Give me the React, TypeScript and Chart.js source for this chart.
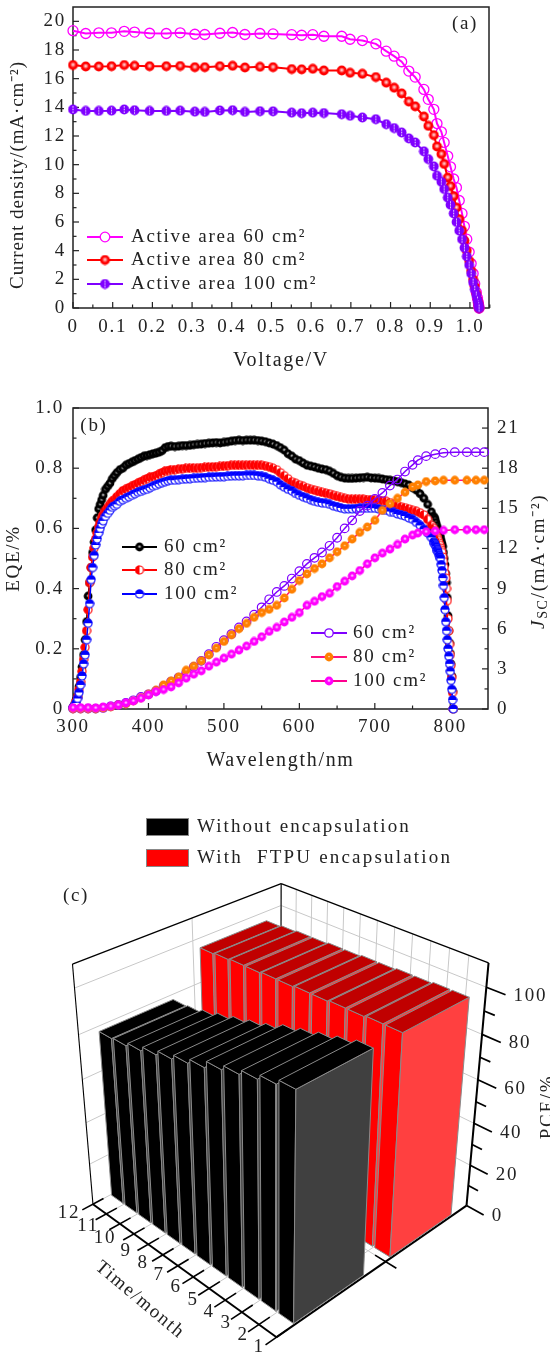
import React, { useEffect, useRef } from "react";
import { Chart, registerables } from "chart.js";
Chart.register(...registerables);

const FONT = "'Liberation Serif'";
const INK = "#222";
const FS = 19;
const SPACING = "1.7px";

/* ---------- panel (a) ---------- */
const voltage = [0,.032,.065,.097,.129,.155,.193,.235,.27,.307,.332,.37,.402,.433,.471,.504,.551,.576,.604,.632,.677,.698,.729,.763,.789,.809,.828,.846,.862,.884,.895,.909,.917,.928,.935,.944,.951,.959,.966,.973,.98,.986,.992,.998,1.003,1.008,1.012,1.016,1.019,1.021,1.022,1.023];
const j60 = [19.35,19.15,19.2,19.2,19.3,19.25,19.17,19.15,19.2,19.1,19.08,19.17,19.22,19.08,19.15,19.12,19.07,19.03,19.07,18.96,18.96,18.75,18.66,18.43,17.92,17.57,17.18,16.53,16.11,15.25,14.56,13.86,12.87,12.29,11.55,10.6,9.85,9,8.4,7.5,6.6,5.7,4.8,3.9,3.1,2.4,1.7,1.1,.7,.4,.2,0];
const j80 = [16.95,16.85,16.85,16.87,16.95,16.9,16.87,16.87,16.88,16.8,16.8,16.87,16.9,16.78,16.83,16.8,16.67,16.65,16.69,16.57,16.57,16.41,16.34,16.11,15.72,15.37,14.97,14.4,14.07,13.36,12.71,12.06,11.27,10.74,10.05,9.1,8.5,7.8,7,6.2,5.4,4.7,4,3.3,2.6,2,1.5,1,.6,.35,.15,0];
const j100 = [13.85,13.75,13.75,13.77,13.85,13.8,13.75,13.75,13.77,13.7,13.68,13.78,13.8,13.68,13.73,13.72,13.63,13.59,13.63,13.6,13.52,13.41,13.29,13.17,12.82,12.55,12.24,11.83,11.55,10.93,10.39,9.88,9.23,8.8,8.3,7.7,7.2,6.6,6,5.4,4.8,4.2,3.6,3,2.4,1.8,1.3,.9,.55,.3,.15,0];
const vTicks = [0,.1,.2,.3,.4,.5,.6,.7,.8,.9,1];
const vLabels = ["0","0.1","0.2","0.3","0.4","0.5","0.6","0.7","0.8","0.9","1.0"];
const vMinor = [.05,.15,.25,.35,.45,.55,.65,.75,.85,.95,1.05];
const jTicks = [0,2,4,6,8,10,12,14,16,18,20];
const jMinor = [1,3,5,7,9,11,13,15,17,19];

/* ---------- panel (b) ---------- */
const wlEqe = [300,302,304,306,308,310,312,314,316,318,320,322,324,326,328,330,332,334,336,338,340,343,346,349,352,355,358,362,366,370,374,378,382,386,390,394,398,402,406,410,414,418,422,426,430,435,440,445,450,455,460,465,470,475,480,485,490,495,500,505,510,515,520,525,530,535,540,545,550,555,560,565,570,575,580,585,590,595,600,605,610,615,620,625,630,635,640,645,650,655,660,665,670,675,680,685,690,695,700,705,710,715,720,725,730,735,740,745,750,755,760,765,770,775,778,779,780,781,782,783,784,785,786,787,788,789,790,791,792,793,794,795,796,797,798,799,800,801,802,803,804];
const eqe60 = [.005,.015,.03,.045,.075,.105,.14,.18,.23,.29,.375,.42,.47,.52,.555,.595,.635,.665,.68,.695,.71,.73,.74,.75,.765,.775,.785,.795,.8,.81,.815,.82,.825,.83,.835,.84,.842,.845,.848,.85,.853,.858,.868,.872,.873,.872,.873,.875,.875,.876,.878,.879,.88,.882,.883,.884,.885,.884,.886,.888,.89,.892,.893,.892,.893,.893,.893,.892,.89,.888,.884,.88,.875,.868,.86,.848,.84,.83,.825,.817,.81,.807,.804,.8,.797,.795,.79,.783,.775,.77,.767,.766,.766,.767,.768,.769,.77,.768,.767,.766,.764,.762,.76,.758,.755,.752,.748,.744,.735,.727,.715,.7,.68,.655,.64,.635,.63,.62,.61,.6,.595,.585,.575,.57,.56,.55,.54,.52,.5,.48,.45,.42,.37,.31,.26,.22,.185,.15,.11,.06,0];
const eqe80 = [.005,.012,.025,.04,.065,.09,.125,.165,.205,.26,.33,.42,.47,.505,.535,.565,.585,.605,.62,.635,.645,.66,.67,.68,.69,.695,.705,.715,.725,.73,.735,.74,.745,.75,.755,.76,.765,.77,.772,.775,.78,.785,.79,.792,.795,.795,.797,.798,.8,.8,.801,.8,.802,.803,.804,.804,.805,.806,.807,.808,.81,.81,.81,.81,.81,.811,.81,.81,.81,.808,.805,.8,.795,.785,.775,.765,.755,.75,.745,.74,.735,.73,.727,.723,.72,.717,.715,.71,.706,.703,.7,.698,.697,.697,.697,.697,.696,.695,.695,.693,.692,.69,.686,.68,.677,.672,.669,.665,.66,.657,.652,.645,.63,.61,.6,.593,.587,.58,.573,.567,.56,.552,.544,.535,.528,.52,.505,.49,.47,.45,.435,.4,.36,.3,.26,.215,.18,.145,.105,.055,0];
const eqe100 = [.005,.01,.02,.035,.055,.08,.11,.15,.18,.23,.285,.35,.43,.47,.51,.545,.565,.585,.6,.615,.625,.64,.65,.66,.67,.675,.68,.69,.695,.7,.705,.71,.715,.72,.723,.727,.73,.735,.74,.743,.748,.752,.755,.758,.76,.76,.762,.763,.764,.765,.766,.767,.768,.769,.77,.77,.771,.772,.772,.773,.774,.775,.775,.775,.776,.776,.776,.775,.773,.77,.765,.76,.755,.745,.737,.73,.725,.716,.71,.705,.7,.695,.69,.687,.685,.683,.68,.675,.672,.668,.665,.665,.665,.666,.667,.667,.667,.667,.667,.665,.662,.66,.656,.653,.648,.645,.641,.635,.63,.62,.61,.597,.585,.57,.555,.55,.545,.54,.53,.525,.52,.51,.505,.5,.48,.46,.435,.41,.37,.33,.29,.26,.23,.2,.175,.15,.125,.095,.065,.03,0];
const wlJsc = [300,310,320,330,340,350,360,370,380,390,400,410,420,430,440,450,460,470,480,490,500,510,520,530,540,550,560,570,580,590,600,610,620,630,640,650,660,670,680,690,700,710,720,730,740,750,757,768,780,791,806,822,834,845];
const jsc60 = [.03,.03,.03,.03,.08,.2,.3,.45,.65,.9,1.1,1.35,1.7,2.05,2.35,2.7,3.15,3.6,4.1,4.65,5.15,5.6,6.1,6.55,7.05,7.6,8.2,8.75,9.2,9.75,10.3,10.85,11.3,11.7,12.2,12.8,13.5,14.1,14.8,15.2,15.7,16.15,16.7,17.15,17.75,18.25,18.6,18.9,19.05,19.15,19.2,19.2,19.2,19.2];
const jsc80 = [.03,.03,.03,.03,.08,.15,.3,.4,.6,.85,1.1,1.4,1.8,2.1,2.4,2.9,3.2,3.6,4.05,4.55,5.05,5.55,6,6.4,6.85,7.2,7.45,7.75,8.3,8.95,9.6,10.1,10.5,10.85,11.3,11.75,12.2,12.7,13.2,13.6,14.1,14.85,15.35,15.75,16.2,16.6,16.75,17,17.05,17.1,17.1,17.1,17.1,17.1];
const jsc100 = [.1,.1,.1,.08,.15,.2,.3,.45,.6,.8,1.05,1.3,1.45,1.65,1.95,2.3,2.6,2.85,3.2,3.5,3.8,4.1,4.4,4.7,5.05,5.4,5.8,6.1,6.5,6.85,7.2,7.75,8.05,8.4,8.65,9.15,9.55,9.95,10.35,10.85,11.3,11.65,11.95,12.3,12.7,13,13.15,13.25,13.3,13.35,13.4,13.4,13.4,13.4];
const wlTicks = [300,400,500,600,700,800];
const wlMinor = [350,450,550,650,750];
const eqeTicks = [0,.2,.4,.6,.8,1];
const eqeLabels = ["0","0.2","0.4","0.6","0.8","1.0"];
const eqeMinor = [.1,.3,.5,.7,.9];
const jscTicks = [0,3,6,9,12,15,18,21];
const jscMinor = [1.5,4.5,7.5,10.5,13.5,16.5,19.5];

/* ---------- panel (c) ---------- */
const months = [1,2,3,4,5,6,7,8,9,10,11,12];
const pceBare = [99,97,95,93,91,88,86,84,82,80,78.5,78];
const pceFtpu = [99,99,98.5,98.5,98,98,97.5,97.5,97,97,96.5,96];
const monthLabelAt = [[259,1347],[243,1335],[226,1323],[209,1312],[193,1300],[176,1287],[159,1275],[143,1263],[126,1251],[105,1238],[88,1226],[69,1213]];
const zTicks = [0,20,40,60,80,100];
const zMinor = [10,30,50,70,90];
const Z_MAX = 110;
const STEPS = 12;

/* projection of the 3-D box to the page, fitted from the box corners */
const calib: number[][] = [
  [0,0,0,277,1335],[1,0,0,93,1207],[0,1,0,465,1209],[1,1,0,281,1100],
  [1,0,1,72,963],[0,1,1,488,963],[1,1,1,281,886],[0,1,60/110,479,1080],[0,1,100/110,487,985],
];
function fitCamera(): number[] {
  const rows: number[][] = [];
  const rhs: number[] = [];
  for (const [X,Y,Z,u0,v0] of calib) {
    const u = u0/1000, v = v0/1000;
    rows.push([X,Y,Z,1,0,0,0,0,-u*X,-u*Y,-u*Z]); rhs.push(u);
    rows.push([0,0,0,0,X,Y,Z,1,-v*X,-v*Y,-v*Z]); rhs.push(v);
  }
  const n = 11;
  const A = Array.from({length:n},()=>new Array(n+1).fill(0));
  rows.forEach((r,k)=>{
    for (let i=0;i<n;i++){ for(let j=0;j<n;j++) A[i][j]+=r[i]*r[j]; A[i][n]+=r[i]*rhs[k]; }
  });
  for (let i=0;i<n;i++){
    let p=i; for(let k=i+1;k<n;k++) if(Math.abs(A[k][i])>Math.abs(A[p][i])) p=k;
    [A[i],A[p]]=[A[p],A[i]];
    for(let k=0;k<n;k++){ if(k===i) continue; const f=A[k][i]/A[i][i]; for(let j=i;j<=n;j++) A[k][j]-=f*A[i][j]; }
  }
  return A.map((r,i)=>r[n]/r[i]);
}
const cam = fitCamera();
function proj(X:number,Y:number,Z:number){
  const w = cam[8]*X+cam[9]*Y+cam[10]*Z+1;
  return { x:(cam[0]*X+cam[1]*Y+cam[2]*Z+cam[3])/w*1000, y:(cam[4]*X+cam[5]*Y+cam[6]*Z+cam[7])/w*1000 };
}
const zOf = (v:number)=>v/Z_MAX;

/* ---------- markers ---------- */
function mk(size:number, draw:(c:CanvasRenderingContext2D,r:number,m:number)=>void){
  const cv=document.createElement("canvas"); cv.width=cv.height=size;
  const c=cv.getContext("2d")!;
  draw(c,size/2-0.6,size/2);
  return cv;
}
const circle=(c:CanvasRenderingContext2D,m:number,r:number)=>{c.beginPath();c.arc(m,m,r,0,Math.PI*2);};
const ballSpot=(col:string,size:number,spot:number)=>mk(size,(c,r,m)=>{
  c.fillStyle=col;circle(c,m,r);c.fill();
  const g=c.createRadialGradient(m,m-.4,0,m,m-.4,spot);
  g.addColorStop(0,"rgba(255,255,255,.95)");g.addColorStop(1,"rgba(255,255,255,0)");
  c.fillStyle=g;circle(c,m,spot);c.fill();
});
const ballCross=(col:string,size:number)=>mk(size,(c,r,m)=>{
  c.fillStyle=col;circle(c,m,r);c.fill();
  c.fillStyle="rgba(255,255,255,.85)";
  c.fillRect(m-.5,m-r+1.5,1,1.6);c.fillRect(m-.5,m-.8,1,1.6);c.fillRect(m-.5,m+r-3,1,1.6);
});
const halfRing=(col:string,size:number,mode:"top"|"left")=>mk(size,(c,r,m)=>{
  c.fillStyle="#fff";circle(c,m,r);c.fill();
  c.fillStyle=col;
  c.beginPath();
  if(mode==="top") c.arc(m,m,r,Math.PI,0); else c.arc(m,m,r,Math.PI/2,Math.PI*1.5);
  c.closePath();c.fill();
  c.strokeStyle=col;c.lineWidth=1.2;circle(c,m,r-.4);c.stroke();
});

function frameTicks(chart:any, sets:{scale:string,major:number[],minor:number[],side:string}[]){
  const {ctx,chartArea:a}=chart;
  ctx.save();
  ctx.strokeStyle=INK;ctx.lineWidth=1.5;
  ctx.strokeRect(a.left,a.top,a.right-a.left,a.bottom-a.top);
  ctx.lineWidth=1.2;
  for(const s of sets){
    const sc=chart.scales[s.scale];
    const draw=(v:number,l:number)=>{
      const p=sc.getPixelForValue(v);
      ctx.beginPath();
      if(s.side==="bottom"){ctx.moveTo(p,a.bottom);ctx.lineTo(p,a.bottom-l);}
      if(s.side==="left"){ctx.moveTo(a.left,p);ctx.lineTo(a.left+l,p);}
      if(s.side==="right"){ctx.moveTo(a.right,p);ctx.lineTo(a.right-l,p);}
      ctx.stroke();
    };
    s.major.forEach(v=>draw(v,6));
    s.minor.forEach(v=>draw(v,3.5));
  }
  ctx.restore();
}
function text(ctx:any,s:string,x:number,y:number,opt:{angle?:number,align?:string,size?:number,style?:string,sp?:string}={}){
  ctx.save();
  if(opt.sp)ctx.letterSpacing=opt.sp;
  ctx.font=`${opt.style||""} ${opt.size||FS}px ${FONT}`;
  ctx.fillStyle=INK;ctx.textAlign=opt.align||"left";ctx.textBaseline="middle";
  ctx.translate(x,y);if(opt.angle)ctx.rotate(opt.angle);
  ctx.fillText(s,0,0);
  ctx.restore();
}
function legendRows(ctx:any,rows:{label:string,line:string,img?:HTMLCanvasElement,ring?:string,y:number}[],x0:number,x1:number,tx:number,r=4.8){
  for(const row of rows){
    ctx.save();
    ctx.strokeStyle=row.line;ctx.lineWidth=2;
    ctx.beginPath();ctx.moveTo(x0,row.y);ctx.lineTo(x1,row.y);ctx.stroke();
    const mid=(x0+x1)/2;
    if(row.img) ctx.drawImage(row.img,mid-row.img.width/2,row.y-row.img.height/2);
    if(row.ring){ctx.fillStyle="#fff";ctx.strokeStyle=row.ring;ctx.lineWidth=1.3;ctx.beginPath();ctx.arc(mid,row.y,r,0,Math.PI*2);ctx.fill();ctx.stroke();}
    ctx.restore();
    text(ctx,row.label,tx,row.y);
  }
}
const spacing={id:"spacing",beforeDraw(c:any){c.ctx.letterSpacing=SPACING;}};
const tickFont={family:FONT,size:FS};
const titleFont={family:FONT,size:20};
function axis(min:number,max:number,ticks:number[],labels:string[]|null,size:number,padding:number,extra:any={}){
  const isH=extra.horizontal;
  return {
    type:"linear",min,max,position:extra.position,
    grid:{display:false,drawTicks:false},border:{display:false},
    title:extra.title||{display:false},
    ticks:{autoSkip:false,maxRotation:0,padding,color:INK,font:tickFont,
      callback:(v:number)=>{const i=ticks.findIndex(t=>Math.abs(t-v)<1e-9);return i<0?"":(labels?labels[i]:String(v));}},
    afterBuildTicks:(s:any)=>{s.ticks=ticks.map(value=>({value}));},
    afterFit:(s:any)=>{
      if(isH)s.height=size;else s.width=size;
      s.paddingTop=s.paddingBottom=s.paddingLeft=s.paddingRight=0;
    },
  };
}
const series=(xs:number[],ys:number[])=>xs.map((x,i)=>({x,y:ys[i]}));

export default function App(){
  const ra=useRef<HTMLCanvasElement>(null),rb=useRef<HTMLCanvasElement>(null),rc=useRef<HTMLCanvasElement>(null);
  useEffect(()=>{
    const base={responsive:false,animation:false as const,devicePixelRatio:1,events:[] as any[]};
    const off={legend:{display:false},tooltip:{enabled:false},title:{display:false}};
    /* a */
    const redBall=ballSpot("#FF0000",11,3);
    const vioBall=ballCross("#7F00FF",11);
    const lineDs=(label:string,xs:number[],ys:number[],col:string,order:number,o:any)=>({
      label,data:series(xs,ys),borderColor:col,borderWidth:2,showLine:true,clip:false,order,tension:0,...o});
    const A=new Chart(ra.current!,{type:"scatter",data:{datasets:[
      lineDs("Active area 60 cm²",voltage,j60,"#FF00FF",3,{pointRadius:5,pointBorderWidth:1.3,pointBackgroundColor:"transparent",pointBorderColor:"#FF00FF"}),
      lineDs("Active area 80 cm²",voltage,j80,"#FF0000",2,{pointRadius:5,pointStyle:redBall}),
      lineDs("Active area 100 cm²",voltage,j100,"#7F00FF",1,{pointRadius:5,pointStyle:vioBall}),
    ]},options:{...base,layout:{padding:{top:6,right:61}},
      plugins:{...off},
      scales:{
        x:axis(0,1.048,vTicks,vLabels,87,8,{horizontal:true,title:{display:true,text:"Voltage/V",color:INK,font:titleFont,padding:{top:0,bottom:22}}}),
        y:axis(0,21,jTicks,null,73,7),
      }},
      plugins:[spacing,{id:"deco",beforeDatasetsDraw(c:any){
        frameTicks(c,[{scale:"x",major:vTicks,minor:vMinor,side:"bottom"},{scale:"y",major:jTicks,minor:jMinor,side:"left"}]);
      },afterDatasetsDraw(c:any){
        const ctx=c.ctx;
        legendRows(ctx,[
          {label:"Active area 60 cm²",line:"#FF00FF",ring:"#FF00FF",y:237},
          {label:"Active area 80 cm²",line:"#FF0000",img:redBall,y:260},
          {label:"Active area 100 cm²",line:"#7F00FF",img:vioBall,y:284},
        ],87,123,131);
        text(ctx,"(a)",465,24,{align:"center"});
        text(ctx,"Current density/(mA·cm⁻²)",18,175,{angle:-Math.PI/2,align:"center",sp:"0.9px"});
      }}] as any});
    /* b */
    const blackBall=ballSpot("#000",10,2);
    const redHalf=halfRing("#FF0000",10,"left");
    const blueHalf=halfRing("#0000FF",10,"top");
    const orange=ballSpot("#FF8000",10,1.2);
    const magenta=ballSpot("#FF00FF",10,2);
    const B=new Chart(rb.current!,{type:"scatter",data:{datasets:[
      lineDs("60 cm²",wlEqe,eqe60,"#000",6,{pointRadius:4,borderWidth:1.5,pointStyle:blackBall}),
      lineDs("80 cm²",wlEqe,eqe80,"#FF0000",5,{pointRadius:4,borderWidth:1.5,pointStyle:redHalf}),
      lineDs("100 cm²",wlEqe,eqe100,"#0000FF",4,{pointRadius:4,borderWidth:1.5,pointStyle:blueHalf}),
      lineDs("60 cm²",wlJsc,jsc60,"#7F00FF",3,{yAxisID:"y1",pointRadius:4.3,borderWidth:1.5,pointBorderWidth:1.2,pointBackgroundColor:"transparent",pointBorderColor:"#7F00FF"}),
      lineDs("80 cm²",wlJsc,jsc80,"#FF1080",2,{yAxisID:"y1",pointRadius:4,borderWidth:1.5,pointStyle:orange}),
      lineDs("100 cm²",wlJsc,jsc100,"#FF0090",1,{yAxisID:"y1",pointRadius:4,borderWidth:1.5,pointStyle:magenta}),
    ]},options:{...base,layout:{padding:{top:13}},
      plugins:{...off},
      scales:{
        x:axis(300,850,wlTicks,null,66,7,{horizontal:true,title:{display:true,text:"Wavelength/nm",color:INK,font:titleFont,padding:{top:0,bottom:2}}}),
        y:axis(0,1,eqeTicks,eqeLabels,73,9,{title:{display:true,text:"EQE/%",color:INK,font:tickFont,padding:{top:2.6,bottom:0}}}),
        y1:axis(0,22.5,jscTicks,null,62,9,{position:"right"}),
      }},
      plugins:[spacing,{id:"deco",beforeDatasetsDraw(c:any){
        frameTicks(c,[{scale:"x",major:wlTicks,minor:wlMinor,side:"bottom"},{scale:"y",major:eqeTicks,minor:eqeMinor,side:"left"},{scale:"y1",major:jscTicks,minor:jscMinor,side:"right"}]);
      },afterDatasetsDraw(c:any){
        const ctx=c.ctx, off=-395;
        legendRows(ctx,[
          {label:"60 cm²",line:"#000",img:blackBall,y:547+off},
          {label:"80 cm²",line:"#FF0000",img:redHalf,y:570+off},
          {label:"100 cm²",line:"#0000FF",img:blueHalf,y:594+off},
        ],122,157,164);
        legendRows(ctx,[
          {label:"60 cm²",line:"#7F00FF",ring:"#7F00FF",y:633+off},
          {label:"80 cm²",line:"#FF1080",img:orange,y:657+off},
          {label:"100 cm²",line:"#FF0090",img:magenta,y:681+off},
        ],311,347,353,4.2);
        text(ctx,"(b)",94,426+off,{align:"center"});
        ctx.save();
        ctx.translate(544,629+off);ctx.rotate(-Math.PI/2);
        ctx.fillStyle=INK;ctx.textBaseline="alphabetic";ctx.textAlign="left";
        ctx.font=`italic ${FS}px ${FONT}`;ctx.fillText("J",0,0);let w=ctx.measureText("J").width;
        ctx.font=`14px ${FONT}`;ctx.fillText("SC",w,3);w+=ctx.measureText("SC").width;
        ctx.font=`${FS}px ${FONT}`;ctx.fillText("/(mA·cm⁻²)",w,0);
        ctx.restore();
      }}] as any});
    /* c */
    const poly:any[]=[];
    const add=(pts:{x:number,y:number}[],opts:any)=>poly.push({data:pts,showLine:true,pointRadius:0,tension:0,clip:false,borderWidth:1,borderColor:"#888",fill:false,...opts});
    const line3=(a:number[],b:number[],col:string,w:number)=>add([proj(a[0],a[1],a[2]),proj(b[0],b[1],b[2])],{borderColor:col,borderWidth:w});
    const GRID="#c8c8c8";
    const stepX=Array.from({length:STEPS+1},(_,i)=>i/STEPS);
    zTicks.slice(1).forEach(v=>{const z=zOf(v);line3([1,0,z],[1,1,z],GRID,1);line3([1,1,z],[0,1,z],GRID,1);});
    stepX.forEach(x=>{line3([x,1,0],[x,1,1],GRID,1);line3([x,0,0],[x,1,0],GRID,1);});
    const yTick=.54;
    line3([1,yTick,0],[1,yTick,1],GRID,1);line3([0,yTick,0],[1,yTick,0],GRID,1);
    line3([1,0,1],[1,1,1],"#000",1.3);line3([1,1,1],[0,1,1],"#000",1.3);
    line3([1,0,0],[1,0,1],"#000",1.1);line3([1,1,0],[1,1,1],"#000",1.1);
    line3([0,1,0],[0,1,1],"#000",2);
    line3([0,0,0],[1,0,0],"#000",2);line3([0,0,0],[0,1,0],"#000",2);
    stepX.forEach(x=>line3([x,-.05,0],[x,.05,0],"#000",1.6));
    line3([-.05,yTick,0],[.05,yTick,0],"#000",1.6);
    zTicks.forEach(v=>line3([0,1,zOf(v)],[-.08,1,zOf(v)],"#000",1.7));
    zMinor.forEach(v=>line3([0,1,zOf(v)],[-.045,1,zOf(v)],"#000",1.7));
    const WID=.072,X0=.006;
    const bar=(m:number,v:number,y0:number,y1:number,front:string,side:string,top:string)=>{
      const x0=X0+(m-1)/STEPS,x1=x0+WID,z=zOf(v);
      add([proj(x0,y0,0),proj(x1,y0,0),proj(x1,y0,z),proj(x0,y0,z),proj(x0,y0,0)],{fill:"shape",backgroundColor:side,borderColor:"#8a8a8a"});
      add([proj(x0,y0,0),proj(x0,y1,0),proj(x0,y1,z),proj(x0,y0,z),proj(x0,y0,0)],{fill:"shape",backgroundColor:front,borderColor:"#8a8a8a"});
      add([proj(x0,y0,z),proj(x0,y1,z),proj(x1,y1,z),proj(x1,y0,z),proj(x0,y0,z)],{fill:"shape",backgroundColor:top,borderColor:"#8a8a8a"});
    };
    [...months].reverse().forEach(m=>bar(m,pceFtpu[m-1],.57,.915,"#FF4040","#FF0000","#C00000"));
    [...months].reverse().forEach(m=>bar(m,pceBare[m-1],.085,.43,"#404040","#000000","#000000"));
    poly.forEach((d,i)=>{d.order=poly.length-i;});
    const C=new Chart(rc.current!,{type:"scatter",data:{datasets:poly},options:{...base,
      layout:{padding:0},
      plugins:{...off,filler:{propagate:false,drawTime:"beforeDatasetDraw"}} as any,
      scales:{x:{type:"linear",display:false,min:0,max:550},y:{type:"linear",display:false,min:775,max:1353,reverse:true}}},
      plugins:[spacing,{id:"deco",afterDatasetsDraw(c:any){
        const ctx=c.ctx,dy=-775;
        ctx.save();ctx.strokeStyle="#888";ctx.lineWidth=1;
        ctx.fillStyle="#000";ctx.fillRect(146,818+dy,43,18);ctx.strokeRect(146.5,818.5+dy,42,17);
        ctx.fillStyle="#FF0000";ctx.fillRect(146,849+dy,43,18);ctx.strokeRect(146.5,849.5+dy,42,17);
        ctx.restore();
        text(ctx,"Without encapsulation",197,827+dy,{sp:"2.05px"});
        text(ctx,"With  FTPU encapsulation",197,858+dy,{sp:"2.2px"});
        text(ctx,"(c)",76,896+dy,{align:"center"});
        zTicks.forEach(v=>{const p=proj(-.08,1,zOf(v));text(ctx,String(v),p.x+8,p.y+1+dy);});
        months.forEach((m,i)=>{const [x,y]=monthLabelAt[i];text(ctx,String(m),x,y+dy,{align:"center"});});
        text(ctx,"Time/month",140,1300+dy,{angle:40*Math.PI/180,align:"center"});
        text(ctx,"PCE/%",548,1107+dy,{angle:-Math.PI/2,align:"center"});
      }}] as any});
    return ()=>{A.destroy();B.destroy();C.destroy();};
  },[]);
  const st=(top:number,h:number):React.CSSProperties=>({position:"absolute",left:0,top,width:550,height:h,display:"block"});
  return <div style={{position:"absolute",left:0,top:0,width:550,height:1353,overflow:"hidden",background:"#fff"}}>
    <canvas ref={ra} width={550} height={395} style={st(0,395)}/>
    <canvas ref={rb} width={550} height={380} style={st(395,380)}/>
    <canvas ref={rc} width={550} height={578} style={st(775,578)}/>
  </div>;
}
